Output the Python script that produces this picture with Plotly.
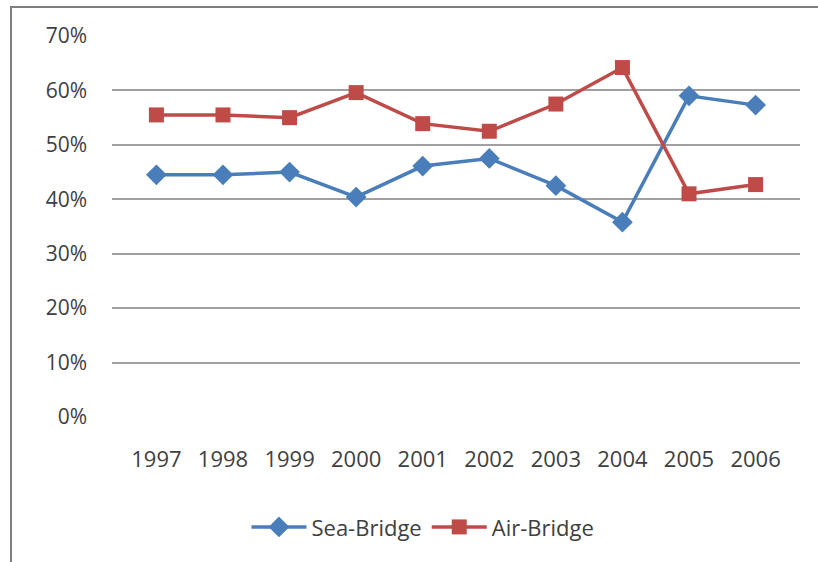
import plotly.graph_objects as go

years = ["1997", "1998", "1999", "2000", "2001", "2002", "2003", "2004", "2005", "2006"]
sea_bridge = [0.445, 0.445, 0.450, 0.404, 0.461, 0.475, 0.425, 0.358, 0.590, 0.573]
air_bridge = [0.555, 0.555, 0.550, 0.596, 0.539, 0.525, 0.575, 0.642, 0.410, 0.427]

font_family = "'Open Sans', 'Noto Sans', sans-serif"

fig = go.Figure()
fig.add_trace(go.Scatter(
    x=years, y=sea_bridge, name="Sea-Bridge", mode="lines+markers",
    line=dict(color="#4A7EBB", width=3.5),
    marker=dict(symbol="diamond", size=16, color="#4A7EBB"),
))
fig.add_trace(go.Scatter(
    x=years, y=air_bridge, name="Air-Bridge", mode="lines+markers",
    line=dict(color="#BE4B48", width=3.5),
    marker=dict(symbol="square", size=15, color="#BE4B48"),
))

fig.update_layout(
    width=818, height=562,
    margin=dict(l=112, r=18, t=36, b=145),
    paper_bgcolor="white", plot_bgcolor="white",
    font=dict(family=font_family, size=21, color="#404040"),
    showlegend=True,
    legend=dict(orientation="h", x=0.452, xanchor="center", y=-0.289, yanchor="middle",
                font=dict(size=22, color="#404040"), itemwidth=55),
    xaxis=dict(type="category", showgrid=False, showline=False, ticks="",
               ticklabelstandoff=27, zeroline=False, tickfont=dict(size=22)),
    yaxis=dict(range=[0, 0.7], dtick=0.1, tickformat=".0%", showgrid=True,
               gridcolor="#A0A0A0", gridwidth=1.5, zeroline=False, showline=False,
               ticks="", ticklabelstandoff=24),
    shapes=[dict(type="rect", xref="paper", yref="paper",
                 x0=-101/688, x1=1 + 30/688, y0=-200/381, y1=1 + 29/381,
                 line=dict(color="#7F7F7F", width=2), fillcolor="rgba(0,0,0,0)",
                 layer="below")],
)

fig.write_html("out.html")
